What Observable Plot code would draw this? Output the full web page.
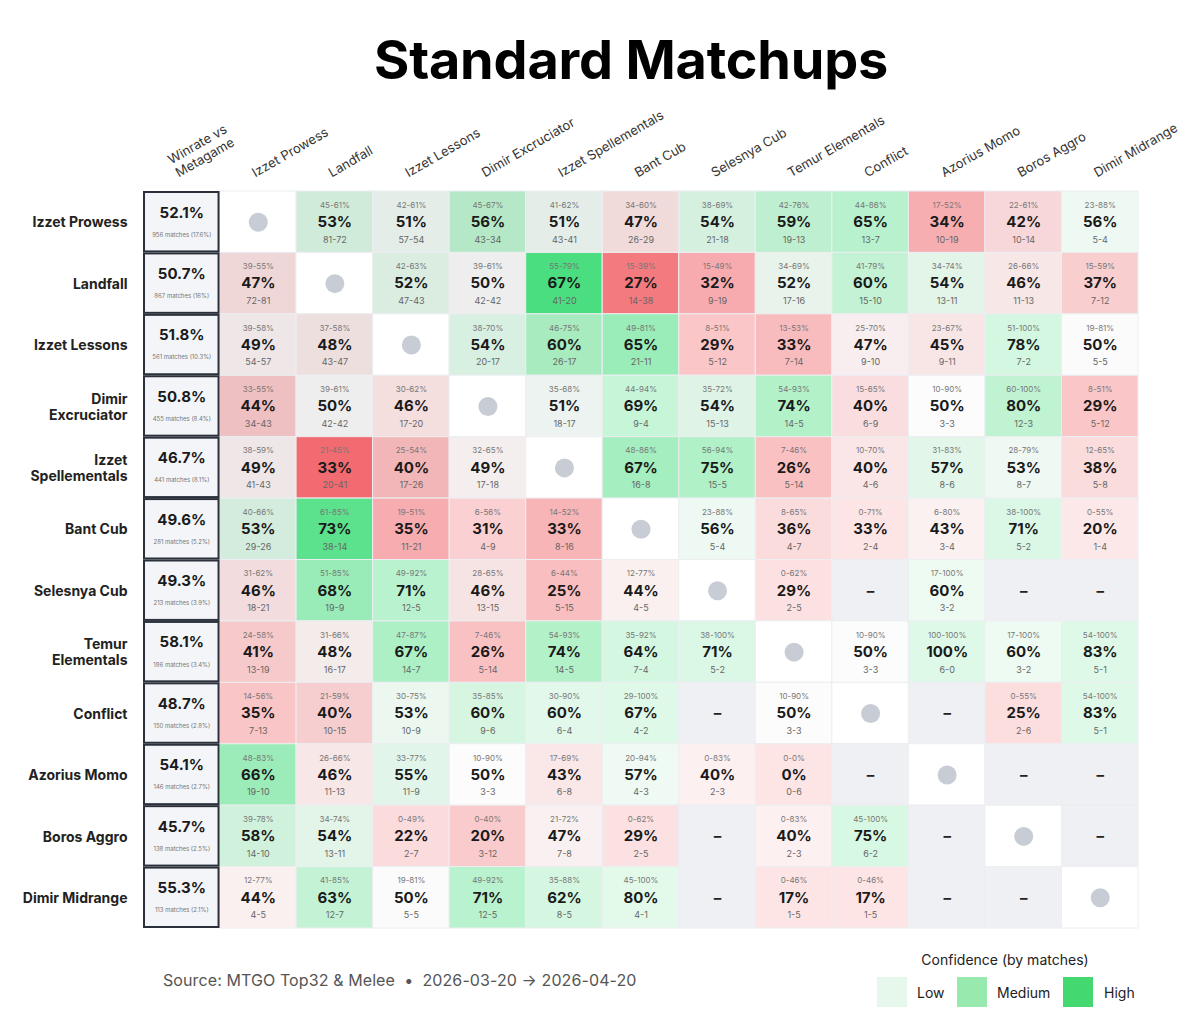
<!DOCTYPE html>
<html>
<head>
<meta charset="utf-8">
<script src="https://cdn.jsdelivr.net/npm/d3@7"></script>
<script src="https://cdn.jsdelivr.net/npm/@observablehq/plot@0.6"></script>
<style>
  body { margin: 0; background: #fff; font-family: Inter, "Noto Sans", sans-serif; }
  #page { position: relative; width: 1200px; height: 1029px; overflow: hidden; }
  #title { position: absolute; left: 31px; top: 33px; width: 1200px; text-align: center; font-size: 54px; font-weight: 700; line-height: 1; color: #000; letter-spacing: -0.2px; }
  #chart { position: absolute; left: 0; top: 100px; }
  #source { position: absolute; left: 163px; top: 970px; font-size: 16px; color: #555; line-height: 20px; letter-spacing: 0.1px; }
  #legend-title { position: absolute; left: 860px; width: 290px; top: 951px; text-align: center; font-size: 14px; color: #222; }
  .sw { position: absolute; top: 977px; width: 30px; height: 30px; }
  .lab { position: absolute; top: 984px; font-size: 14px; color: #222; line-height: 18px; }
</style>
</head>
<body>
<div id="page">
  <div id="title">Standard Matchups</div>
  <div id="chart"></div>
  <div id="source">Source: MTGO Top32 &amp; Melee &nbsp;•&nbsp; 2026-03-20 → 2026-04-20</div>
  <div id="legend-title">Confidence (by matches)</div>
  <div class="sw" style="left:877px;background:#e5f8eb"></div><div class="lab" style="left:917px">Low</div>
  <div class="sw" style="left:957px;background:#97e9ae"></div><div class="lab" style="left:997px">Medium</div>
  <div class="sw" style="left:1063px;background:#44d870"></div><div class="lab" style="left:1104px">High</div>
</div>
<script>
// ---------- DATA ----------
const decks = ["Izzet Prowess","Landfall","Izzet Lessons","Dimir Excruciator","Izzet Spellementals","Bant Cub","Selesnya Cub","Temur Elementals","Conflict","Azorius Momo","Boros Aggro","Dimir Midrange"];
const rowLabels = ["Izzet Prowess","Landfall","Izzet Lessons","Dimir\nExcruciator","Izzet\nSpellementals","Bant Cub","Selesnya Cub","Temur\nElementals","Conflict","Azorius Momo","Boros Aggro","Dimir Midrange"];
const winrates = ["52.1%","50.7%","51.8%","50.8%","46.7%","49.6%","49.3%","58.1%","48.7%","54.1%","45.7%","55.3%"];
const matchInfo = ["956 matches (17.6%)","867 matches (16%)","561 matches (10.3%)","455 matches (8.4%)","441 matches (8.1%)","281 matches (5.2%)","213 matches (3.9%)","186 matches (3.4%)","150 matches (2.8%)","146 matches (2.7%)","138 matches (2.5%)","113 matches (2.1%)"];
const headerFirst = "Winrate vs\nMetagame";

// "D" = mirror (diagonal), "" = no data
const records = [
  ["D","81-72","57-54","43-34","43-41","26-29","21-18","19-13","13-7","10-19","10-14","5-4"],
  ["72-81","D","47-43","42-42","41-20","14-38","9-19","17-16","15-10","13-11","11-13","7-12"],
  ["54-57","43-47","D","20-17","26-17","21-11","5-12","7-14","9-10","9-11","7-2","5-5"],
  ["34-43","42-42","17-20","D","18-17","9-4","15-13","14-5","6-9","3-3","12-3","5-12"],
  ["41-43","20-41","17-26","17-18","D","16-8","15-5","5-14","4-6","8-6","8-7","5-8"],
  ["29-26","38-14","11-21","4-9","8-16","D","5-4","4-7","2-4","3-4","5-2","1-4"],
  ["18-21","19-9","12-5","13-15","5-15","4-5","D","2-5","","3-2","",""],
  ["13-19","16-17","14-7","5-14","14-5","7-4","5-2","D","3-3","6-0","3-2","5-1"],
  ["7-13","10-15","10-9","9-6","6-4","4-2","","3-3","D","","2-6","5-1"],
  ["19-10","11-13","11-9","3-3","6-8","4-3","2-3","0-6","","D","",""],
  ["14-10","13-11","2-7","3-12","7-8","2-5","","2-3","6-2","","D",""],
  ["4-5","12-7","5-5","12-5","8-5","4-1","","1-5","1-5","","","D"]
];
const pcts = [
  [null,53,51,56,51,47,54,59,65,34,42,56],
  [47,null,52,50,67,27,32,52,60,54,46,37],
  [49,48,null,54,60,65,29,33,47,45,78,50],
  [44,50,46,null,51,69,54,74,40,50,80,29],
  [49,33,40,49,null,67,75,26,40,57,53,38],
  [53,73,35,31,33,null,56,36,33,43,71,20],
  [46,68,71,46,25,44,null,29,null,60,null,null],
  [41,48,67,26,74,64,71,null,50,100,60,83],
  [35,40,53,60,60,67,null,50,null,null,25,83],
  [66,46,55,50,43,57,40,0,null,null,null,null],
  [58,54,22,20,47,29,null,40,75,null,null,null],
  [44,63,50,71,62,80,null,17,17,null,null,null]
];
const ranges = [
  ["","45-61%","42-61%","45-67%","41-62%","34-60%","38-69%","42-76%","44-86%","17-52%","22-61%","23-88%"],
  ["39-55%","","42-63%","39-61%","55-79%","15-39%","15-49%","34-69%","41-79%","34-74%","26-66%","15-59%"],
  ["39-58%","37-58%","","38-70%","46-75%","49-81%","8-51%","13-53%","25-70%","23-67%","51-100%","19-81%"],
  ["33-55%","39-61%","30-62%","","35-68%","44-94%","35-72%","54-93%","15-65%","10-90%","60-100%","8-51%"],
  ["38-59%","21-45%","25-54%","32-65%","","48-86%","56-94%","7-46%","10-70%","31-83%","28-79%","12-65%"],
  ["40-66%","61-85%","19-51%","6-56%","14-52%","","23-88%","8-65%","0-71%","6-80%","38-100%","0-55%"],
  ["31-62%","51-85%","49-92%","28-65%","6-44%","12-77%","","0-62%","","17-100%","",""],
  ["24-58%","31-66%","47-87%","7-46%","54-93%","35-92%","38-100%","","10-90%","100-100%","17-100%","54-100%"],
  ["14-56%","21-59%","30-75%","35-85%","30-90%","29-100%","","10-90%","","","0-55%","54-100%"],
  ["48-83%","26-66%","33-77%","10-90%","17-69%","20-94%","0-83%","0-0%","","","",""],
  ["39-78%","34-74%","0-49%","0-40%","21-72%","0-62%","","0-83%","45-100%","","",""],
  ["12-77%","41-85%","19-81%","49-92%","35-88%","45-100%","","0-46%","0-46%","","",""]
];

// ---------- COLOR ENCODING (winrate direction x confidence by matches) ----------
const NEUTRAL = "#eeeeee", GREEN = "#4ade80", RED = "#f26b70";
function cellColor(pct, n) {
  const d = Math.max(-1, Math.min(1, (pct / 100 - 0.5) / 0.17));
  const base = d >= 0 ? d3.interpolateRgb(NEUTRAL, GREEN)(d) : d3.interpolateRgb(NEUTRAL, RED)(-d);
  const conf = Math.pow(Math.min(1, n / 60), 0.75);
  return d3.interpolateRgb("#ffffff", base)(conf);
}

// ---------- TABLE ----------
const WR = "__wr";
const cells = [];
decks.forEach((r, i) => {
  decks.forEach((c, j) => {
    const rec = records[i][j];
    let kind = rec === "D" ? "diag" : rec === "" ? "missing" : "data";
    let fill = "#ffffff", n = 0;
    if (kind === "data") {
      const [w, l] = rec.split("-").map(Number);
      n = w + l;
      fill = cellColor(pcts[i][j], n);
    } else if (kind === "missing") fill = "#eff0f3";
    cells.push({row: r, col: c, kind, fill, rec, pct: pcts[i][j], range: ranges[i][j]});
  });
});
const dataCells = cells.filter(d => d.kind === "data");
const wrCells = decks.map((d, i) => ({row: d, col: WR, wr: winrates[i], info: matchInfo[i], label: rowLabels[i]}));
const headers = [{key: WR, label: headerFirst}, ...decks.map(d => ({key: d, label: d}))];

const chart = Plot.plot({
  width: 1200,
  height: 850,
  marginLeft: 143,
  marginRight: 62,
  marginTop: 91,
  marginBottom: 22,
  style: {fontFamily: "Inter, sans-serif", background: "transparent"},
  x: {type: "band", domain: [WR, ...decks], padding: 0, round: false, axis: null},
  y: {type: "band", domain: decks, padding: 0, round: false, axis: null},
  color: {type: "identity"},
  marks: [
    Plot.cell(cells, {x: "col", y: "row", fill: "fill", stroke: "#eceef1", strokeWidth: 1}),
    Plot.dot(cells.filter(d => d.kind === "diag"), {x: "col", y: "row", r: 9.5, fill: "#c8ccd4"}),
    Plot.text(cells.filter(d => d.kind === "missing"), {x: "col", y: "row", text: () => "–", fontSize: 15, fontWeight: 700, fill: "#222"}),
    Plot.text(dataCells, {x: "col", y: "row", text: "range", dy: -17, fontSize: 8, fill: "#777"}),
    Plot.text(dataCells, {x: "col", y: "row", text: d => d.pct + "%", dy: 0, fontSize: 15, fontWeight: 700, fill: "#1a1a1a"}),
    Plot.text(dataCells, {x: "col", y: "row", text: "rec", dy: 17.5, fontSize: 9, fill: "#666"}),
    // winrate column
    Plot.cell(wrCells, {x: "col", y: "row", fill: "#f3f5f8", stroke: "#2b303b", strokeWidth: 2, inset: 1}),
    Plot.text(wrCells, {x: "col", y: "row", text: "wr", dy: -9.5, fontSize: 15, fontWeight: 700, fill: "#1a1a1a"}),
    Plot.text(wrCells, {x: "col", y: "row", text: "info", dy: 12.5, fontSize: 6, fill: "#777"}),
    // row labels
    Plot.text(wrCells, {y: "row", text: "label", frameAnchor: "left", dx: -16, textAnchor: "end", fontSize: 14, fontWeight: 700, fill: "#222", lineHeight: 1.15}),
    // column headers
    Plot.text(headers, {x: "key", text: "label", frameAnchor: "top", dy: -14, dx: -3, rotate: -30, textAnchor: "start", lineAnchor: "bottom", fontSize: 13, fill: "#333", lineHeight: 1.15})
  ]
});
document.getElementById("chart").appendChild(chart);
</script>
</body>
</html>
